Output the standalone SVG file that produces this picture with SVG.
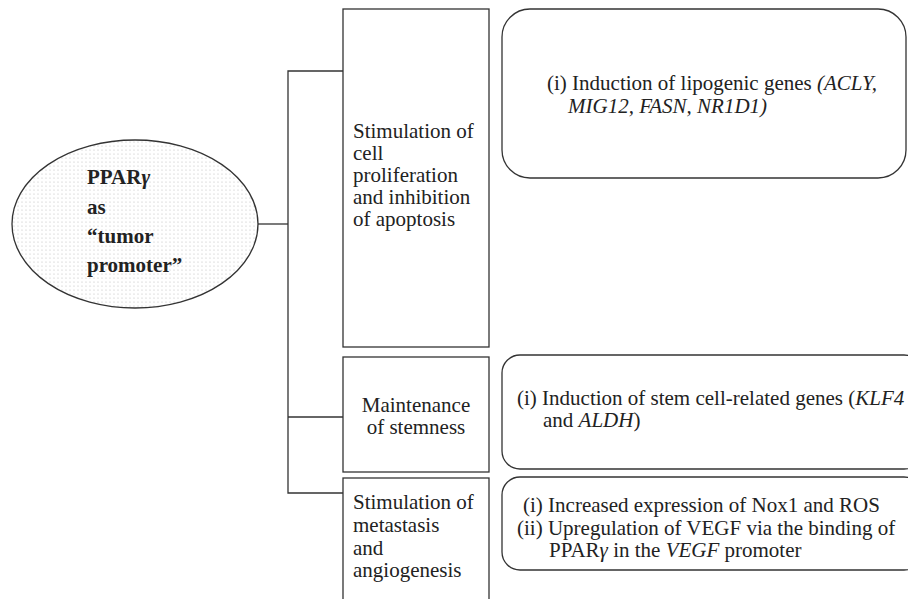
<svg xmlns="http://www.w3.org/2000/svg" width="908" height="599" viewBox="0 0 908 599">
  <defs>
    <pattern id="dots" x="0" y="0" width="4" height="4" patternUnits="userSpaceOnUse">
      <rect width="4" height="4" fill="#ffffff"/>
      <circle cx="2" cy="2" r="0.6" fill="#bdbdbd"/>
    </pattern>
  </defs>
  <style>
    .ln { stroke: #333; stroke-width: 1.3; fill: none; }
    .box { stroke: #333; stroke-width: 1.3; fill: #fff; }
    .t { font-family: "Liberation Serif", "Times New Roman", serif; font-size: 21px; fill: #222; }
    .b { font-weight: bold; font-size: 21px; }
    .i { font-style: italic; }
  </style>
  <rect width="908" height="599" fill="#fff"/>
  <g id="connectors">
    <polyline class="ln" points="258,224 288,224"/>
    <polyline class="ln" points="343,71 288,71 288,493 343,493"/>
    <polyline class="ln" points="288,417 343,417"/>
  </g>
  <g id="root">
    <ellipse cx="135" cy="224" rx="123" ry="84" fill="url(#dots)" stroke="#333" stroke-width="1.3"/>
    <text class="t b" x="87" y="184">PPAR<tspan class="i">γ</tspan></text>
    <text class="t b" x="87" y="214">as</text>
    <text class="t b" x="87" y="243">“tumor</text>
    <text class="t b" x="87" y="272">promoter”</text>
  </g>
  <g id="cat1">
    <rect class="box" x="343" y="9" width="146" height="338"/>
    <text class="t" x="353" y="138">Stimulation of</text>
    <text class="t" x="353" y="160">cell</text>
    <text class="t" x="353" y="182">proliferation</text>
    <text class="t" x="353" y="204">and inhibition</text>
    <text class="t" x="353" y="226">of apoptosis</text>
  </g>
  <g id="cat2">
    <rect class="box" x="343" y="357" width="146" height="115"/>
    <text class="t" x="416" y="412" text-anchor="middle">Maintenance</text>
    <text class="t" x="416" y="434" text-anchor="middle">of stemness</text>
  </g>
  <g id="cat3">
    <rect class="box" x="343" y="478" width="146" height="140"/>
    <text class="t" x="353" y="509">Stimulation of</text>
    <text class="t" x="353" y="532">metastasis</text>
    <text class="t" x="353" y="555">and</text>
    <text class="t" x="353" y="577">angiogenesis</text>
  </g>
  <g id="detail1">
    <rect class="box" x="502" y="9" width="404" height="169" rx="28" ry="28"/>
    <text class="t" x="547" y="90">(i) Induction of lipogenic genes <tspan class="i">(ACLY,</tspan></text>
    <text class="t i" x="568" y="113">MIG12, FASN, NR1D1)</text>
  </g>
  <g id="detail2">
    <rect class="box" x="502" y="355" width="420" height="114" rx="18" ry="18"/>
    <text class="t" x="517" y="405">(i) Induction of stem cell-related genes (<tspan class="i">KLF4</tspan></text>
    <text class="t" x="543" y="427">and <tspan class="i">ALDH</tspan>)</text>
  </g>
  <g id="detail3">
    <rect class="box" x="502" y="477" width="420" height="93" rx="18" ry="18"/>
    <text class="t" x="523" y="512">(i) Increased expression of Nox1 and ROS</text>
    <text class="t" x="517" y="535">(ii) Upregulation of VEGF via the binding of</text>
    <text class="t" x="549" y="557">PPAR<tspan class="i">γ</tspan> in the <tspan class="i">VEGF</tspan> promoter</text>
  </g>
</svg>
